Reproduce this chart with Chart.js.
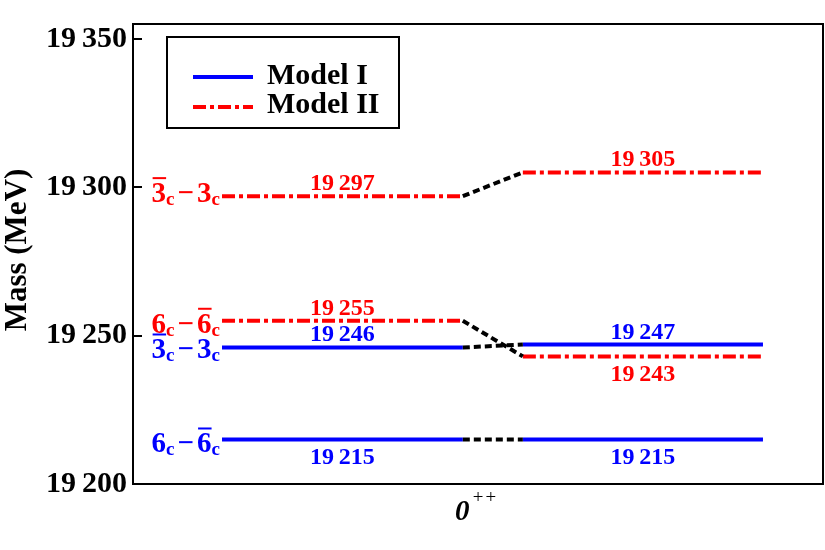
<!DOCTYPE html>
<html><head><meta charset="utf-8">
<script src="https://cdn.jsdelivr.net/npm/chart.js@4/dist/chart.umd.min.js"></script>
<style>html,body{margin:0;padding:0;background:#fff}canvas{display:block}</style>
</head><body>
<canvas id="c" width="825" height="550"></canvas>
<script>
// ---- data ----
const states = ['3\u0305c\u22123c', '6c\u22126\u0305c'];
const stateDigits = [['3', '3'], ['6', '6']];
const stateBars = [[true, false], [false, true]];
const seriesNames = ['Model I', 'Model II'];
const modelILeft = [19246, 19215];
const modelIRight = [19247, 19215];
const modelIILeft = [19297, 19255];
const modelIIRight = [19305, 19243];
const yTicks = [19200, 19250, 19300, 19350];
const yRange = [19200, 19355];
const xCategory = '0';
const xCategorySup = '++';
const yTitle = 'Mass (MeV)';

// ---- layout / style (not data) ----
const leftSpan = [0.129, 0.478];
const rightSpan = [0.565, 0.913];
const placeILeft = ['above', 'below'];
const placeIRight = ['above', 'below'];
const placeIILeft = ['above', 'above'];
const placeIIRight = ['above', 'below'];
const stateOffsetI = [11, 13];
const stateOffsetII = [6, 12];
const BLUE = '#0000ff', RED = '#ff0000';
const SERIF = '"Liberation Serif", "Times New Roman", serif';
const DASHDOT = [13, 4, 4, 4];

function fmt(v) { const s = String(v); return s.slice(0, 2) + '\u2009' + s.slice(2); }

const datasets = [];
function seg(vals, span, color, dash) {
  vals.forEach(v => datasets.push({
    data: [{x: span[0], y: v}, {x: span[1], y: v}],
    borderColor: color, borderWidth: 4, borderDash: dash, showLine: true,
    pointRadius: 0, fill: false, borderCapStyle: 'butt'
  }));
}
function conn(a, b) {
  a.forEach((v, i) => datasets.push({
    data: [{x: leftSpan[1], y: v}, {x: rightSpan[0], y: b[i]}],
    borderColor: '#000', borderWidth: 4, borderDash: [7, 4], showLine: true,
    pointRadius: 0, fill: false, borderCapStyle: 'butt'
  }));
}
conn(modelILeft, modelIRight);
conn(modelIILeft, modelIIRight);
seg(modelILeft, leftSpan, BLUE, []);
seg(modelIRight, rightSpan, BLUE, []);
seg(modelIILeft, leftSpan, RED, DASHDOT);
seg(modelIIRight, rightSpan, RED, DASHDOT);

const deco = {
  id: 'deco',
  afterDatasetsDraw(chart) {
    const ctx = chart.ctx, a = chart.chartArea;
    const xs = chart.scales.x, ys = chart.scales.y;
    ctx.save();
    // frame
    ctx.strokeStyle = '#000'; ctx.lineWidth = 2; ctx.setLineDash([]);
    ctx.strokeRect(a.left, a.top, a.right - a.left, a.bottom - a.top);
    // inward ticks
    yTicks.forEach(v => {
      const y = Math.round(ys.getPixelForValue(v));
      ctx.beginPath(); ctx.moveTo(a.left, y); ctx.lineTo(a.left + 9, y); ctx.stroke();
    });
    // value labels
    ctx.font = 'bold 24px ' + SERIF; ctx.textAlign = 'center'; ctx.textBaseline = 'alphabetic';
    function vlabels(vals, span, places, color) {
      const cx = xs.getPixelForValue((span[0] + span[1]) / 2);
      ctx.fillStyle = color;
      vals.forEach((v, i) => {
        const y = ys.getPixelForValue(v);
        ctx.fillText(fmt(v), cx, places[i] === 'above' ? y - 6 : y + 25);
      });
    }
    vlabels(modelILeft, leftSpan, placeILeft, BLUE);
    vlabels(modelIRight, rightSpan, placeIRight, BLUE);
    vlabels(modelIILeft, leftSpan, placeIILeft, RED);
    vlabels(modelIIRight, rightSpan, placeIIRight, RED);
    // state labels
    function stateLabel(k, yv, off, color) {
      const big = 'bold 29px ' + SERIF, small = 'bold 19px ' + SERIF;
      const d = stateDigits[k], bars = stateBars[k];
      ctx.fillStyle = color; ctx.strokeStyle = color; ctx.textAlign = 'left';
      ctx.font = big; const wd0 = ctx.measureText(d[0]).width, wd1 = ctx.measureText(d[1]).width, wm = ctx.measureText('\u2212').width;
      ctx.font = small; const wc = ctx.measureText('c').width;
      const total = wd0 + wc + 3 + wm + 3 + wd1 + wc;
      const right = xs.getPixelForValue(leftSpan[0]) - 2;
      let x = right - total;
      const base = ys.getPixelForValue(yv) + off;
      const parts = [[d[0], big, 0, bars[0]], ['c', small, 3, false], [null, 0, 0, false], ['\u2212', big, 0, false], [null, 0, 0, false], [d[1], big, 0, bars[1]], ['c', small, 3, false]];
      parts.forEach(p => {
        if (p[0] === null) { x += 3; return; }
        ctx.font = p[1];
        const w = ctx.measureText(p[0]).width;
        ctx.fillText(p[0], x, base + p[2]);
        if (p[3]) { ctx.lineWidth = 2; ctx.beginPath(); ctx.moveTo(x + 1, base - 24); ctx.lineTo(x + w, base - 24); ctx.stroke(); }
        x += w;
      });
    }
    modelILeft.forEach((v, i) => stateLabel(i, v, stateOffsetI[i], BLUE));
    modelIILeft.forEach((v, i) => stateLabel(i, v, stateOffsetII[i], RED));
    // legend
    ctx.strokeStyle = '#000'; ctx.lineWidth = 2; ctx.setLineDash([]);
    ctx.fillStyle = '#fff';
    ctx.fillRect(167, 37, 232, 91);
    ctx.strokeRect(167, 37, 232, 91);
    ctx.lineWidth = 4; ctx.strokeStyle = BLUE;
    ctx.beginPath(); ctx.moveTo(193, 77); ctx.lineTo(253, 77); ctx.stroke();
    ctx.strokeStyle = RED; ctx.setLineDash(DASHDOT);
    ctx.beginPath(); ctx.moveTo(193, 107); ctx.lineTo(253, 107); ctx.stroke();
    ctx.setLineDash([]);
    ctx.fillStyle = '#000'; ctx.font = 'bold 30px ' + SERIF; ctx.textAlign = 'left';
    ctx.fillText(seriesNames[0], 267, 84);
    ctx.fillText(seriesNames[1], 267, 113);
    // x category label
    ctx.font = 'italic bold 29px ' + SERIF;
    ctx.fillText(xCategory, 455, 520);
    const w0 = ctx.measureText(xCategory).width;
    ctx.font = 'italic 19px ' + SERIF;
    ctx.fillText(xCategorySup, 455 + w0 + 2, 503);
    // y title
    ctx.translate(26, 250); ctx.rotate(-Math.PI / 2);
    ctx.font = 'bold 31px ' + SERIF; ctx.textAlign = 'center';
    ctx.fillText(yTitle, 0, 0);
    ctx.restore();
  }
};

new Chart(document.getElementById('c'), {
  type: 'scatter',
  data: { datasets },
  options: {
    responsive: false, animation: false,
    layout: { padding: { top: 23, right: 2, left: 0, bottom: 0 } },
    plugins: { legend: { display: false }, tooltip: { enabled: false } },
    scales: {
      x: { type: 'linear', min: 0, max: 1, ticks: { display: false },
           grid: { display: false, drawTicks: false }, border: { display: false },
           afterFit(s) { s.height = 66; } },
      y: { type: 'linear', min: yRange[0], max: yRange[1],
           afterBuildTicks(s) { s.ticks = yTicks.map(v => ({ value: v })); },
           ticks: { color: '#000', padding: 6, font: { family: SERIF, weight: 'bold', size: 30 },
                    callback: v => fmt(v) },
           grid: { display: false, drawTicks: false }, border: { display: false },
           afterFit(s) { s.width = 133; } }
    }
  },
  plugins: [deco]
});
</script>
</body></html>
